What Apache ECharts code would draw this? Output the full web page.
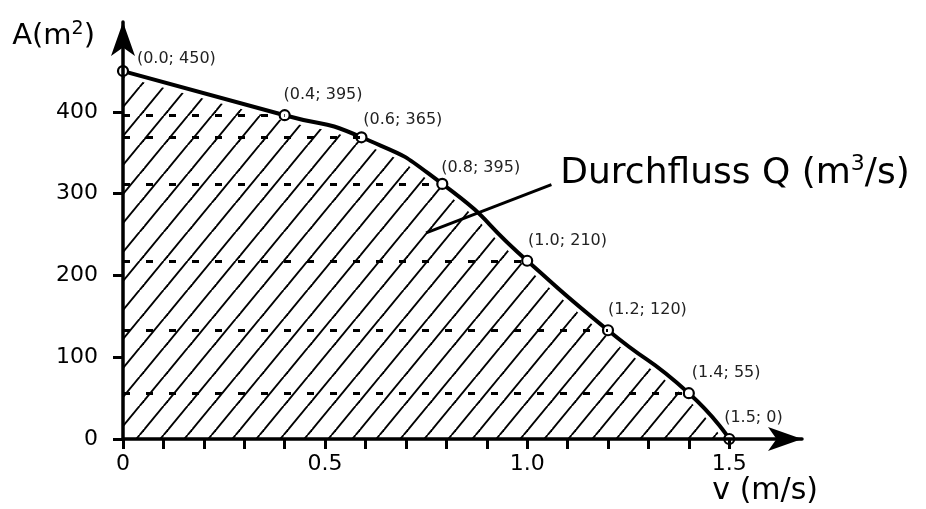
<!DOCTYPE html>
<html>
<head>
<meta charset="utf-8">
<title>Durchfluss</title>
<script src="https://cdn.jsdelivr.net/npm/echarts@6/dist/echarts.min.js"></script>
<style>
  html, body { margin: 0; padding: 0; background: #fff; }
  #chart { width: 926px; height: 509px; }
</style>
</head>
<body>
<div id="chart"></div>
<script>
// Messpunkte v (m/s) und A (m2)
const vValues = [0, 0.4, 0.59, 0.79, 1.0, 1.2, 1.4, 1.5];
const aValues = [450, 396, 369, 312, 218, 133, 56, 0];
// Beschriftungen wie im Bild
const pointLabels = ['(0.0; 450)', '(0.4; 395)', '(0.6; 365)', '(0.8; 395)', '(1.0; 210)', '(1.2; 120)', '(1.4; 55)', '(1.5; 0)'];
const xTickValues = [0, 0.1, 0.2, 0.3, 0.4, 0.5, 0.6, 0.7, 0.8, 0.9, 1.0, 1.1, 1.2, 1.3, 1.4, 1.5];
const xLabelValues = [0, 0.5, 1.0, 1.5];
const yTickValues = [0, 100, 200, 300, 400];
// Hinweislinie zum Text
const pointerFrom = [0.75, 252];
const pointerTo = [1.06, 311];
const annotationAt = [1.082, 325];

// Label-Versatz [dx, dy] in Pixel
const labelOffsets = [[15, -11], [0, -19], [3, -16], [0, -15], [2, -19], [1, -19], [4, -19], [-4, -20]];

const FONT = 'DejaVu Sans';
const SMOOTH = 0.6;

// Schraffur als Muster
function makeHatch() {
  const w = 24, h = 29;
  const c = document.createElement('canvas');
  c.width = w;
  c.height = h;
  const ctx = c.getContext('2d');
  ctx.fillStyle = '#fff';
  ctx.fillRect(0, 0, w, h);
  ctx.strokeStyle = '#000';
  ctx.lineWidth = 1.9;
  for (let k = -1; k <= 1; k++) {
    ctx.beginPath();
    ctx.moveTo(19.6 + w * k, 0);
    ctx.lineTo(19.6 + w * k - w, h);
    ctx.stroke();
  }
  return c;
}
const hatch = makeHatch();

const points = vValues.map((v, i) => [v, aValues[i]]);

// Kurve + Fläche in einem Rutsch zeichnen
function renderCurve(params, api) {
  if (params.dataIndex !== 0) return;
  const pts = points.map(p => api.coord(p));
  const first = pts[0];
  const last = pts[pts.length - 1];
  const base = api.coord([0, 0]);
  // doppelte Eckpunkte -> scharfe Ecken an der Grundlinie
  const poly = pts.concat([last.slice(), base.slice(), base.slice(), first.slice()]);
  return {
    type: 'group',
    children: [
      {
        type: 'polygon',
        shape: { points: poly, smooth: SMOOTH },
        style: { fill: { image: hatch, repeat: 'repeat' }, stroke: null }
      },
      {
        type: 'polyline',
        shape: { points: pts, smooth: SMOOTH },
        style: { stroke: '#fff', lineWidth: 11, fill: null }
      },
      {
        type: 'polyline',
        shape: { points: pts, smooth: SMOOTH },
        style: { stroke: '#000', lineWidth: 4, fill: null }
      }
    ]
  };
}

const seriesData = vValues.map((v, i) => ({
  value: [v, aValues[i]],
  label: {
    show: true,
    formatter: pointLabels[i],
    position: [labelOffsets[i][0] + 5, labelOffsets[i][1] + 5],
    align: 'left',
    verticalAlign: 'middle',
    fontFamily: FONT,
    fontSize: 16,
    color: '#222'
  }
}));

// gestrichelte Linien von der A-Achse zu den Punkten
const dashLines = [];
for (let i = 1; i < vValues.length - 1; i++) {
  dashLines.push([
    { coord: [0, aValues[i]] },
    { coord: [vValues[i], aValues[i]] }
  ]);
}
dashLines.push([
  { coord: pointerFrom, lineStyle: { type: 'solid', width: 3 } },
  { coord: pointerTo }
]);

const option = {
  animation: false,
  backgroundColor: '#fff',
  textStyle: { fontFamily: FONT },
  grid: { left: 123, right: 124, top: 22, bottom: 70, outerBoundsMode: 'none', containLabel: false },
  xAxis: {
    type: 'value',
    min: 0,
    max: 1.68,
    z: 10,
    name: 'v (m/s)',
    nameLocation: 'end',
    nameGap: 16,
    nameTextStyle: { fontFamily: FONT, fontSize: 30, color: '#000', align: 'right', verticalAlign: 'top', padding: [37, 0, 0, 0] },
    axisLine: { show: true, symbol: ['none', 'arrow'], symbolSize: [18, 34], lineStyle: { color: '#000', width: 3.5 } },
    axisTick: { show: true, customValues: xTickValues, length: 10, lineStyle: { color: '#000', width: 3 } },
    axisLabel: {
      customValues: xLabelValues,
      margin: 14,
      fontFamily: FONT,
      fontSize: 22,
      color: '#000',
      formatter: v => (v === 0 ? '0' : v.toFixed(1))
    },
    splitLine: { show: false }
  },
  yAxis: {
    type: 'value',
    min: 0,
    max: 510,
    z: 10,
    name: 'A(m{sup|2})',
    nameLocation: 'end',
    nameGap: -14,
    nameTextStyle: {
      fontFamily: FONT, fontSize: 29, color: '#000', align: 'right', verticalAlign: 'middle', padding: [0, 28, 0, 0],
      rich: { sup: { fontFamily: FONT, fontSize: 19, color: '#000', verticalAlign: 'top', padding: [0, 0, 14, 0] } }
    },
    axisLine: { show: true, symbol: ['none', 'arrow'], symbolSize: [18, 34], lineStyle: { color: '#000', width: 3.5 } },
    axisTick: { show: true, customValues: yTickValues, length: 10, lineStyle: { color: '#000', width: 3 } },
    axisLabel: { customValues: yTickValues, margin: 25, fontFamily: FONT, fontSize: 22, color: '#000' },
    splitLine: { show: false }
  },
  series: [
    {
      type: 'custom',
      data: points,
      encode: { x: 0, y: 1 },
      renderItem: renderCurve,
      silent: true,
      z: 1
    },
    {
      type: 'scatter',
      data: seriesData,
      symbol: 'circle',
      symbolSize: 10,
      itemStyle: { color: '#fff', borderColor: '#000', borderWidth: 2.2, opacity: 1 },
      z: 3,
      markLine: {
        silent: true,
        symbol: ['none', 'none'],
        label: { show: false },
        lineStyle: { color: '#000', width: 3, type: [7, 16] },
        data: dashLines
      },
      markPoint: {
        silent: true,
        symbol: 'circle',
        symbolSize: 0,
        data: [{
          coord: annotationAt,
          label: {
            show: true,
            position: [0, 0],
            align: 'left',
            verticalAlign: 'middle',
            formatter: 'Durchfluss Q (m{sup|3}/s)',
            fontFamily: FONT,
            fontSize: 36,
            color: '#000',
            rich: { sup: { fontFamily: FONT, fontSize: 22, color: '#000', verticalAlign: 'top', padding: [0, 0, 18, 0] } }
          }
        }]
      }
    }
  ]
};

const chart = echarts.init(document.getElementById('chart'), null, { renderer: 'canvas' });
chart.setOption(option);
</script>
</body>
</html>
